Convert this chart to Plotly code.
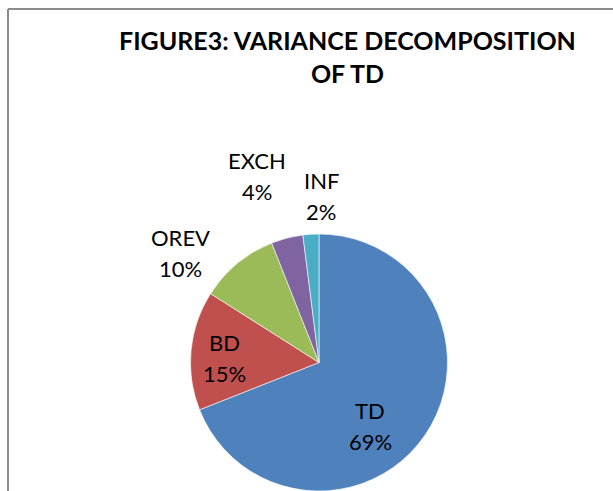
import math
import plotly.graph_objects as go

labels = ["TD", "BD", "OREV", "EXCH", "INF"]
values = [69, 15, 10, 4, 2]
colors = ["#4F81BD", "#C0504D", "#9BBB59", "#8064A2", "#4BACC6"]
title_lines = ["FIGURE3: VARIANCE DECOMPOSITION", "OF TD"]

# label placement style (radial factor and angular nudge, per slice)
label_k = [0.631, 0.740, 1.376, 1.533, 1.297]
label_dang = [16.8, -2.4, -12.2, -3.95, 4.45]

W, H = 613, 491
dom_x = [189 / W, 449 / W]
dom_y = [0, 257 / H]

fig = go.Figure(go.Pie(
    labels=labels,
    values=values,
    sort=False,
    direction="clockwise",
    rotation=0,
    marker=dict(colors=colors, line=dict(color="white", width=0.6)),
    textinfo="none",
    domain=dict(x=dom_x, y=dom_y),
    hoverinfo="label+percent",
    showlegend=False,
))

# pie geometry in pixels (pie fills its domain, margins are zero)
cx = (dom_x[0] + dom_x[1]) / 2 * W
r = min((dom_x[1] - dom_x[0]) * W, (dom_y[1] - dom_y[0]) * H) / 2
cy = H - (dom_y[0] + dom_y[1]) / 2 * H

total = sum(values)
annotations = []
cum = 0
for lab, v, k, da in zip(labels, values, label_k, label_dang):
    mid = (cum + v / 2) / total * 360 + da
    cum += v
    th = math.radians(mid)
    px = cx + k * r * math.sin(th)
    py = cy - k * r * math.cos(th)
    pct = f"{round(v / total * 100)}%"
    for txt, shift in ((lab, 15.5), (pct, -15.5)):
        annotations.append(dict(
            x=px / W, y=1 - py / H, xref="paper", yref="paper",
            text=txt, showarrow=False, xanchor="center", yanchor="middle", yshift=shift,
            font=dict(family="Lato", size=22, color="black"),
        ))

annotations.append(dict(
    x=347 / W, y=1 - 56 / H, xref="paper", yref="paper",
    text="<br>".join(title_lines), showarrow=False, xanchor="center", yanchor="middle",
    font=dict(family="Lato", size=25, color="black", weight="bold"),
))

fig.update_layout(
    width=W, height=H,
    margin=dict(l=0, r=0, t=0, b=0),
    paper_bgcolor="white",
    annotations=annotations,
    shapes=[
        dict(type="line", xref="paper", yref="paper", x0=8 / W, x1=1, y0=1 - 9 / H, y1=1 - 9 / H,
             line=dict(color="#8c8c8c", width=2)),
        dict(type="line", xref="paper", yref="paper", x0=8 / W, x1=8 / W, y0=0, y1=1 - 9 / H,
             line=dict(color="#8c8c8c", width=2)),
    ],
)

fig.write_html("out.html", config={"displayModeBar": False},
               post_script="document.body.style.margin='0';document.body.style.overflow='hidden';")
